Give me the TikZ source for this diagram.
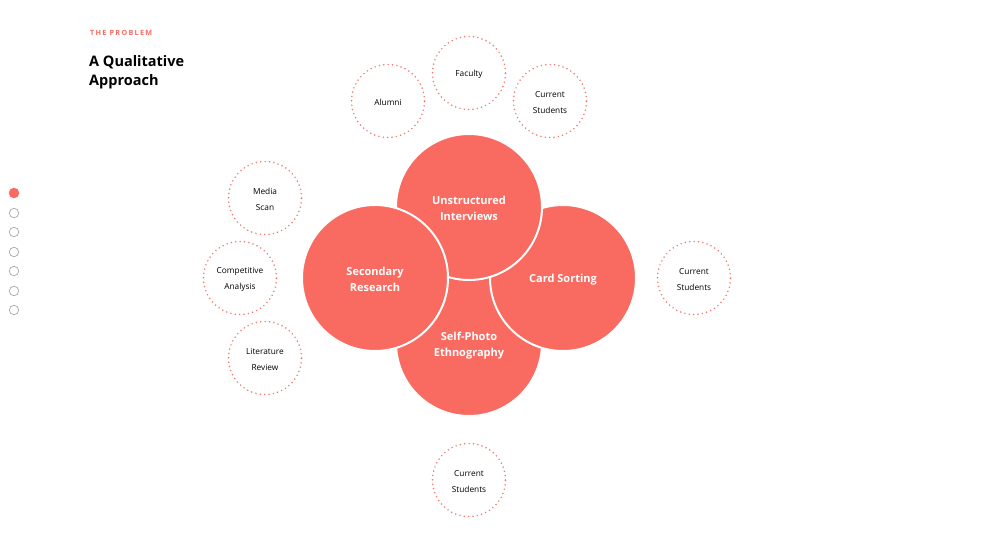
\documentclass[tikz,border=0pt]{standalone}
\usepackage{fontspec}
\setmainfont{Open Sans}
\newfontfamily\spaced[LetterSpace=18]{Open Sans}
\definecolor{coral}{HTML}{F96A60}
\definecolor{dotc}{HTML}{F2786E}
\definecolor{pager}{HTML}{A8A8A8}
\begin{document}
\begin{tikzpicture}[x=1pt,y=-1pt,
  bigc/.style={circle,fill=coral,draw=white,line width=2pt,minimum size=146pt,inner sep=0pt},
  bigt/.style={text=white,font=\fontsize{11}{16}\selectfont\bfseries,align=center},
  smallc/.style={circle,draw=dotc,line width=1.7pt,dash pattern=on 0pt off 4.4pt,line cap=round,
    minimum size=73pt,inner sep=0pt},
  smallt/.style={font=\fontsize{8.3}{16}\selectfont,align=center,inner sep=0pt,yshift=-1.5pt},
  pgdot/.style={circle,draw=pager,line width=0.7pt,minimum size=9.5pt,inner sep=0pt},
  pgfill/.style={circle,fill=coral,minimum size=10.5pt,inner sep=0pt}]
\useasboundingbox (0,0) rectangle (999,557);
% title
\node[anchor=west,inner sep=0pt,text=coral,font=\fontsize{7.2}{8}\selectfont\spaced\bfseries] (kicker) at (90,33) {THE PROBLEM};
\node[anchor=north west,inner sep=0pt,align=left,font=\fontsize{14.5}{19}\selectfont\bfseries] (title) at (89,55) {A Qualitative\\Approach};
% pager
\node[pgfill] (p1) at (14,193) {};
\node[pgdot] (p2) at (14,213) {};
\node[pgdot] (p3) at (14,232) {};
\node[pgdot] (p4) at (14,252) {};
\node[pgdot] (p5) at (14,271) {};
\node[pgdot] (p6) at (14,291) {};
\node[pgdot] (p7) at (14,310) {};
% big circles (order matters)
\node[bigc] (self) at (469,343) {};
\node[bigc] (card) at (563,278) {};
\node[bigc] (unst) at (469,207) {};
\node[bigc] (sec) at (375,278) {};
\node[bigt] (unstT) at (469,208.5) {Unstructured\\Interviews};
\node[bigt] (secT) at (375,279.5) {Secondary\\Research};
\node[bigt] (cardT) at (563,279.5) {Card Sorting};
\node[bigt] (selfT) at (469,345.5) {Self-Photo\\Ethnography};
% small dotted circles
\node[smallc] (alumni) at (388,101) {};
\node[smallt] (alumniT) at (alumni) {Alumni};
\node[smallc] (faculty) at (469,73) {};
\node[smallt] (facultyT) at (faculty) {Faculty};
\node[smallc] (cs1) at (550,101) {};
\node[smallt] (cs1T) at (cs1) {Current\\Students};
\node[smallc] (media) at (265,198) {};
\node[smallt] (mediaT) at (media) {Media\\Scan};
\node[smallc] (comp) at (240,278) {};
\node[smallt] (compT) at (comp) {Competitive\\Analysis};
\node[smallc] (lit) at (265,358) {};
\node[smallt] (litT) at (lit) {Literature\\Review};
\node[smallc] (cs2) at (694,278) {};
\node[smallt] (cs2T) at (cs2) {Current\\Students};
\node[smallc] (cs3) at (469,480) {};
\node[smallt] (cs3T) at (cs3) {Current\\Students};
\end{tikzpicture}
\end{document}
